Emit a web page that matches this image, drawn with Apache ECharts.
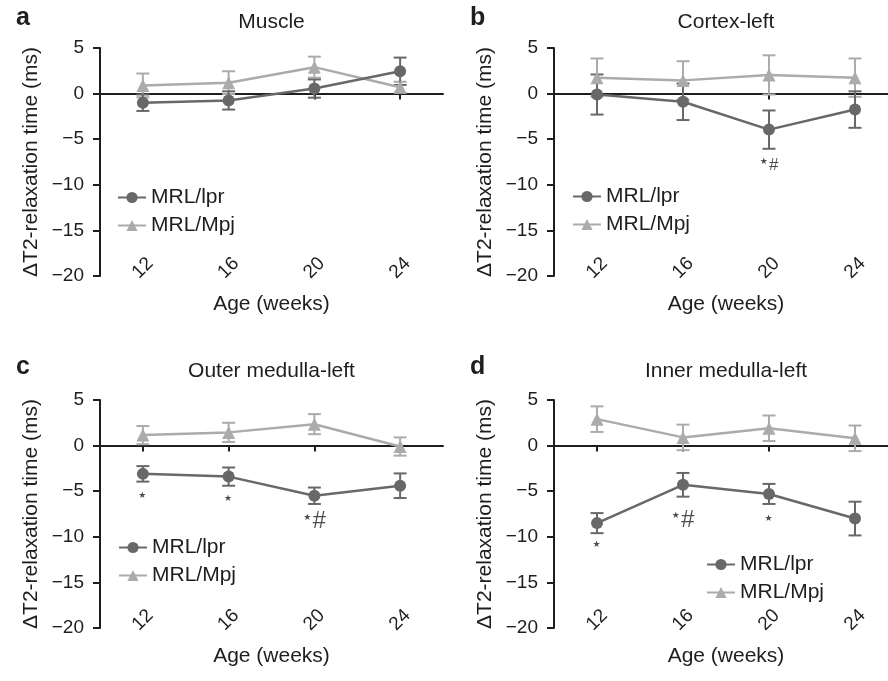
<!DOCTYPE html>
<html>
<head>
<meta charset="utf-8">
<script src="https://cdn.jsdelivr.net/npm/echarts@6/dist/echarts.min.js"></script>
<style>
  html, body { margin: 0; background: #fff; }
  #main { width: 888px; height: 681px; }
</style>
</head>
<body>
<div id="main"></div>
<script>
// categories and axis ticks
const ages = ['12', '16', '20', '24'];
const yMin = -20;
const yMax = 5;
const yStep = 5;
const groups = ['MRL/lpr', 'MRL/Mpj'];

// a - Muscle
const muscleLpr = [-1.0, -0.75, 0.55, 2.45];
const muscleLprErr = [0.9, 1.0, 1.0, 1.5];
const muscleMpj = [0.9, 1.2, 2.9, 0.7];
const muscleMpjErr = [1.3, 1.25, 1.15, 0.6];
const muscleNotes = [];

// b - Cortex-left
const cortexLpr = [-0.1, -0.9, -3.95, -1.75];
const cortexLprErr = [2.2, 2.0, 2.1, 2.0];
const cortexMpj = [1.75, 1.45, 2.05, 1.75];
const cortexMpjErr = [2.1, 2.1, 2.15, 2.1];
const cortexNotes = [['20', -7.9, '*#']];

// c - Outer medulla-left
const outerLpr = [-3.1, -3.4, -5.5, -4.4];
const outerLprErr = [0.85, 1.0, 0.9, 1.35];
const outerMpj = [1.15, 1.45, 2.35, -0.1];
const outerMpjErr = [1.0, 1.05, 1.1, 1.0];
const outerNotes = [['12', -5.9, '*'], ['16', -6.3, '*'], ['20', -8.3, '*#']];

// d - Inner medulla-left
const innerLpr = [-8.5, -4.3, -5.3, -8.0];
const innerLprErr = [1.1, 1.3, 1.1, 1.85];
const innerMpj = [2.9, 0.9, 1.9, 0.8];
const innerMpjErr = [1.4, 1.4, 1.4, 1.4];
const innerNotes = [['12', -11.3, '*'], ['16', -8.15, '*#'], ['20', -8.4, '*']];

const darkGrey = '#686868';
const lightGrey = '#ababab';
const ink = '#1e1e1e';
const font = 'Liberation Sans, Arial, Helvetica, sans-serif';

const panels = [
  { letter: 'a', title: 'Muscle', lpr: muscleLpr, lprErr: muscleLprErr, mpj: muscleMpj, mpjErr: muscleMpjErr, notes: muscleNotes,
    left: 100, top: 48, width: 343, letterTop: 6, titleTop: 12, legend: [117, 187], hash: 16 },
  { letter: 'b', title: 'Cortex-left', lpr: cortexLpr, lprErr: cortexLprErr, mpj: cortexMpj, mpjErr: cortexMpjErr, notes: cortexNotes,
    left: 554, top: 48, width: 344, letterTop: 6, titleTop: 12, legend: [572, 186], hash: 17 },
  { letter: 'c', title: 'Outer medulla-left', lpr: outerLpr, lprErr: outerLprErr, mpj: outerMpj, mpjErr: outerMpjErr, notes: outerNotes,
    left: 100, top: 400, width: 343, letterTop: 355, titleTop: 361, legend: [118, 537], hash: 24 },
  { letter: 'd', title: 'Inner medulla-left', lpr: innerLpr, lprErr: innerLprErr, mpj: innerMpj, mpjErr: innerMpjErr, notes: innerNotes,
    left: 554, top: 400, width: 344, letterTop: 355, titleTop: 361, legend: [706, 554], hash: 24 }
];

const minus = v => (v < 0 ? '\u2212' + Math.abs(v) : String(v));

// error bars drawn via custom series
function errorBars(vals, errs, color, gi) {
  return {
    type: 'custom',
    xAxisIndex: gi * 2,
    yAxisIndex: gi,
    silent: true,
    z: 2,
    data: vals.map((v, i) => [i, v - errs[i], v + errs[i]]),
    renderItem(params, api) {
      const lo = api.coord([api.value(0), api.value(1)]);
      const hi = api.coord([api.value(0), api.value(2)]);
      const w = 6.5;
      const style = { stroke: color, lineWidth: 2 };
      return {
        type: 'group',
        children: [
          { type: 'line', shape: { x1: hi[0], y1: hi[1], x2: lo[0], y2: lo[1] }, style },
          { type: 'line', shape: { x1: hi[0] - w, y1: hi[1], x2: hi[0] + w, y2: hi[1] }, style },
          { type: 'line', shape: { x1: lo[0] - w, y1: lo[1], x2: lo[0] + w, y2: lo[1] }, style }
        ]
      };
    }
  };
}

const option = {
  animation: false,
  backgroundColor: '#fff',
  textStyle: { fontFamily: font },
  title: [],
  legend: [],
  grid: [],
  xAxis: [],
  yAxis: [],
  series: []
};

panels.forEach((p, gi) => {
  option.title.push({
    text: p.letter, left: p.left - 84, top: p.letterTop, padding: 0,
    textStyle: { fontSize: 25, fontWeight: 'bold', color: ink, fontFamily: font }
  });
  option.title.push({
    text: p.title, left: p.left + p.width / 2, top: p.titleTop, textAlign: 'center', padding: 0,
    textStyle: { fontSize: 21, fontWeight: 'normal', color: ink, fontFamily: font }
  });
  option.legend.push({
    orient: 'vertical', left: p.legend[0], top: p.legend[1], padding: 0,
    itemWidth: 28, itemHeight: 14, itemGap: 7,
    data: groups,
    textStyle: { fontSize: 21, color: ink, fontFamily: font }
  });
  option.grid.push({
    left: p.left, top: p.top, width: p.width, height: 228,
    containLabel: false, outerBoundsMode: 'none'
  });
  // bottom axis: labels + name only
  option.xAxis.push({
    type: 'category', gridIndex: gi, data: ages, position: 'bottom',
    axisLine: { show: false, onZero: false },
    axisTick: { show: false },
    axisLabel: { rotate: 45, align: 'center', verticalAlign: 'middle', margin: -8, fontSize: 19, color: ink, fontFamily: font },
    name: 'Age (weeks)', nameLocation: 'middle', nameGap: 18,
    nameTextStyle: { fontSize: 21, color: ink, fontFamily: font },
    splitLine: { show: false }
  });
  // zero line with ticks
  option.xAxis.push({
    type: 'category', gridIndex: gi, data: ages, position: 'bottom',
    axisLine: { show: true, onZero: true, lineStyle: { color: ink, width: 2 } },
    axisTick: { show: true, alignWithLabel: true, length: 6, lineStyle: { color: ink, width: 2 } },
    axisLabel: { show: false },
    splitLine: { show: false }
  });
  option.yAxis.push({
    type: 'value', gridIndex: gi, min: yMin, max: yMax, interval: yStep,
    axisLine: { show: true, onZero: false, lineStyle: { color: ink, width: 2 } },
    axisTick: { show: true, length: 7, lineStyle: { color: ink, width: 2 } },
    axisLabel: { fontSize: 19, color: ink, margin: 16, formatter: minus, fontFamily: font },
    splitLine: { show: false },
    name: '\u0394T2-relaxation time (ms)', nameLocation: 'middle', nameGap: 58,
    nameTextStyle: { fontSize: 21, color: ink, fontFamily: font }
  });

  option.series.push(errorBars(p.mpj, p.mpjErr, lightGrey, gi));
  option.series.push({
    type: 'line', name: groups[1], xAxisIndex: gi * 2, yAxisIndex: gi, data: p.mpj, z: 3,
    symbol: 'triangle', symbolSize: 13, showSymbol: true,
    lineStyle: { color: lightGrey, width: 2.5 }, itemStyle: { color: lightGrey }
  });
  option.series.push(errorBars(p.lpr, p.lprErr, darkGrey, gi));
  option.series.push({
    type: 'line', name: groups[0], xAxisIndex: gi * 2, yAxisIndex: gi, data: p.lpr, z: 4,
    symbol: 'circle', symbolSize: 12, showSymbol: true,
    lineStyle: { color: darkGrey, width: 2.5 }, itemStyle: { color: darkGrey }
  });
  // significance marks
  option.series.push({
    type: 'scatter', xAxisIndex: gi * 2, yAxisIndex: gi, z: 5, silent: true,
    symbolSize: 1, itemStyle: { color: 'rgba(0,0,0,0)' },
    data: p.notes.map(n => ({ value: [ages.indexOf(n[0]), n[1]], mark: n[2] })),
    label: {
      show: true, position: 'inside', color: ink,
      formatter: q => q.data.mark.replace('*', '{s|\u2605}').replace('#', '{h|#}'),
      rich: {
        s: { fontSize: 9, color: ink, fontFamily: 'DejaVu Sans', padding: [0, 1, 8, 0] },
        h: { fontSize: p.hash, fontStyle: 'italic', color: ink, fontFamily: font }
      }
    }
  });
});

const chart = echarts.init(document.getElementById('main'), null, { renderer: 'canvas' });
chart.setOption(option);
</script>
</body>
</html>
